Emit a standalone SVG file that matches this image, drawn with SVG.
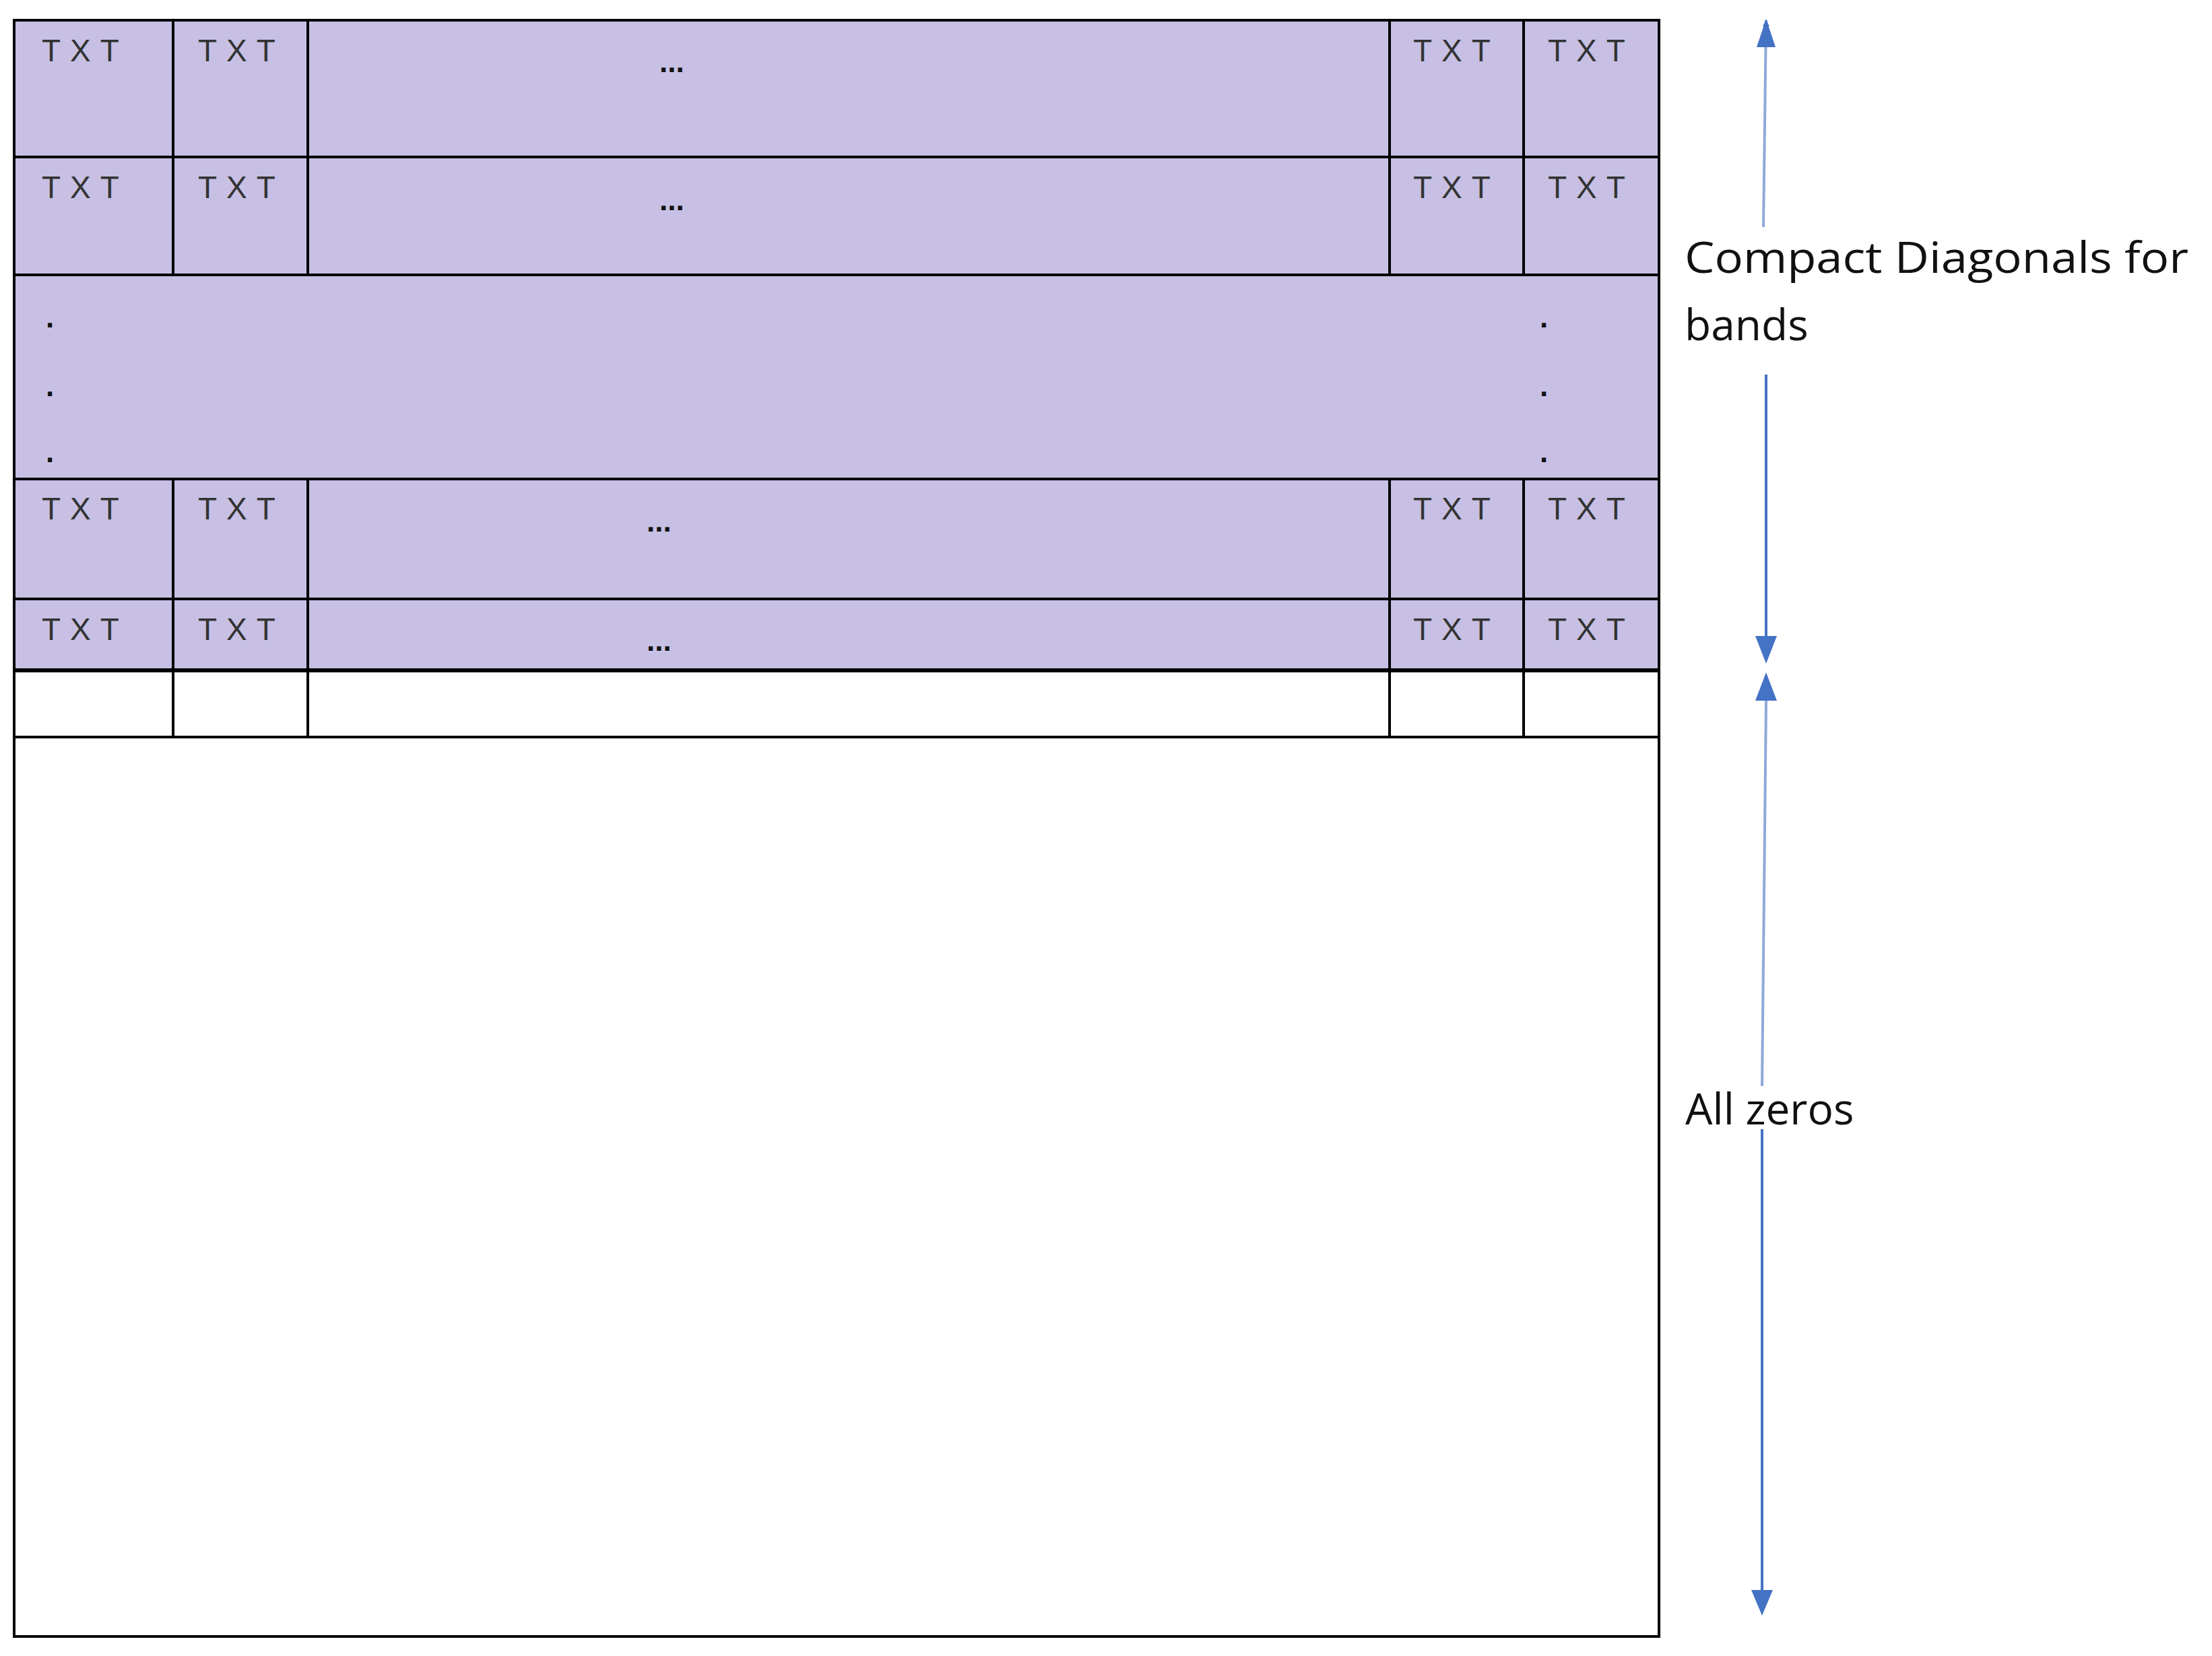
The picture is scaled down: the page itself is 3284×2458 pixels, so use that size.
<svg xmlns="http://www.w3.org/2000/svg" width="3284" height="2458" viewBox="0 0 3284 2458">
<style>
.c{fill:#C7C0E4;stroke:#000;stroke-width:4}
.w{fill:#fff;stroke:#000;stroke-width:4}
.t{font-family:"Liberation Sans",Arial,sans-serif;font-size:46px;fill:#333;letter-spacing:14px}
.e{font-family:"Liberation Sans",Arial,sans-serif;font-size:44px;font-weight:bold;fill:#111}
.l{font-family:"Open Sans","Liberation Sans",sans-serif;font-size:64px;fill:#111}
.a{stroke:#4472C4;stroke-width:4;fill:none}
</style>
<defs>
<marker id="ah" markerWidth="10" markerHeight="10" refX="9" refY="5" orient="auto" markerUnits="userSpaceOnUse" viewBox="0 0 10 10"><path d="M0,0L10,5L0,10z" fill="#4472C4"/></marker>
</defs>
<rect x="0" y="0" width="3284" height="2458" fill="#fff"/>
<g id="matrix">
<rect class="w" x="21" y="30" width="2442" height="2399"/>
<rect class="c" x="21" y="30" width="2442" height="966"/>
<line class="w" x1="21" y1="233" x2="2463" y2="233"/>
<line class="w" x1="21" y1="408" x2="2463" y2="408"/>
<line class="w" x1="21" y1="711" x2="2463" y2="711"/>
<line class="w" x1="21" y1="889" x2="2463" y2="889"/>
<line class="w" x1="21" y1="994" x2="2463" y2="994"/>
<line class="w" x1="21" y1="1094" x2="2463" y2="1094"/>
<g stroke="#000" stroke-width="4">
<line x1="257" y1="30" x2="257" y2="408"/><line x1="457" y1="30" x2="457" y2="408"/><line x1="2063" y1="30" x2="2063" y2="408"/><line x1="2262" y1="30" x2="2262" y2="408"/>
<line x1="257" y1="711" x2="257" y2="1094"/><line x1="457" y1="711" x2="457" y2="1094"/><line x1="2063" y1="711" x2="2063" y2="1094"/><line x1="2262" y1="711" x2="2262" y2="1094"/>
</g>
</g>
<g id="labels">
<text class="t" x="62" y="91">TXT</text><text class="t" x="294" y="91">TXT</text><text class="t" x="2098" y="91">TXT</text><text class="t" x="2298" y="91">TXT</text>
<text class="t" x="62" y="294">TXT</text><text class="t" x="294" y="294">TXT</text><text class="t" x="2098" y="294">TXT</text><text class="t" x="2298" y="294">TXT</text>
<text class="t" x="62" y="771">TXT</text><text class="t" x="294" y="771">TXT</text><text class="t" x="2098" y="771">TXT</text><text class="t" x="2298" y="771">TXT</text>
<text class="t" x="62" y="950">TXT</text><text class="t" x="294" y="950">TXT</text><text class="t" x="2098" y="950">TXT</text><text class="t" x="2298" y="950">TXT</text>
<text class="e" x="979" y="107">...</text>
<text class="e" x="979" y="312">...</text>
<text class="e" x="960" y="789">...</text>
<text class="e" x="960" y="966">...</text>
<text class="e" x="68" y="486">.</text><text class="e" x="68" y="588">.</text><text class="e" x="68" y="686">.</text>
<text class="e" x="2286" y="486">.</text><text class="e" x="2286" y="588">.</text><text class="e" x="2286" y="686">.</text>
<text class="l" x="2501" y="405" textLength="748" lengthAdjust="spacingAndGlyphs">Compact Diagonals for</text>
<text class="l" x="2501" y="505">bands</text>
<text class="l" x="2502" y="1669">All zeros</text>
</g>
<g id="connectors">
<line class="a" x1="2618" y1="337" x2="2622" y2="30" stroke="#8EA9DB" style="stroke:#8EA9DB" marker-end="url(#ah)"/>
<path d="M2622,28 L2608,70 L2636,70z" fill="#4472C4"/>
<line class="a" x1="2622" y1="556" x2="2622" y2="960"/>
<path d="M2622,985 L2606,944 L2638,944z" fill="#4472C4"/>
<path d="M2622,998 L2606,1040 L2638,1040z" fill="#4472C4"/>
<line class="a" x1="2622" y1="1040" x2="2616" y2="1612" style="stroke:#8EA9DB"/>
<line class="a" x1="2616" y1="1676" x2="2616" y2="2370"/>
<path d="M2616,2398 L2600,2360 L2632,2360z" fill="#4472C4"/>
</g>
</svg>
